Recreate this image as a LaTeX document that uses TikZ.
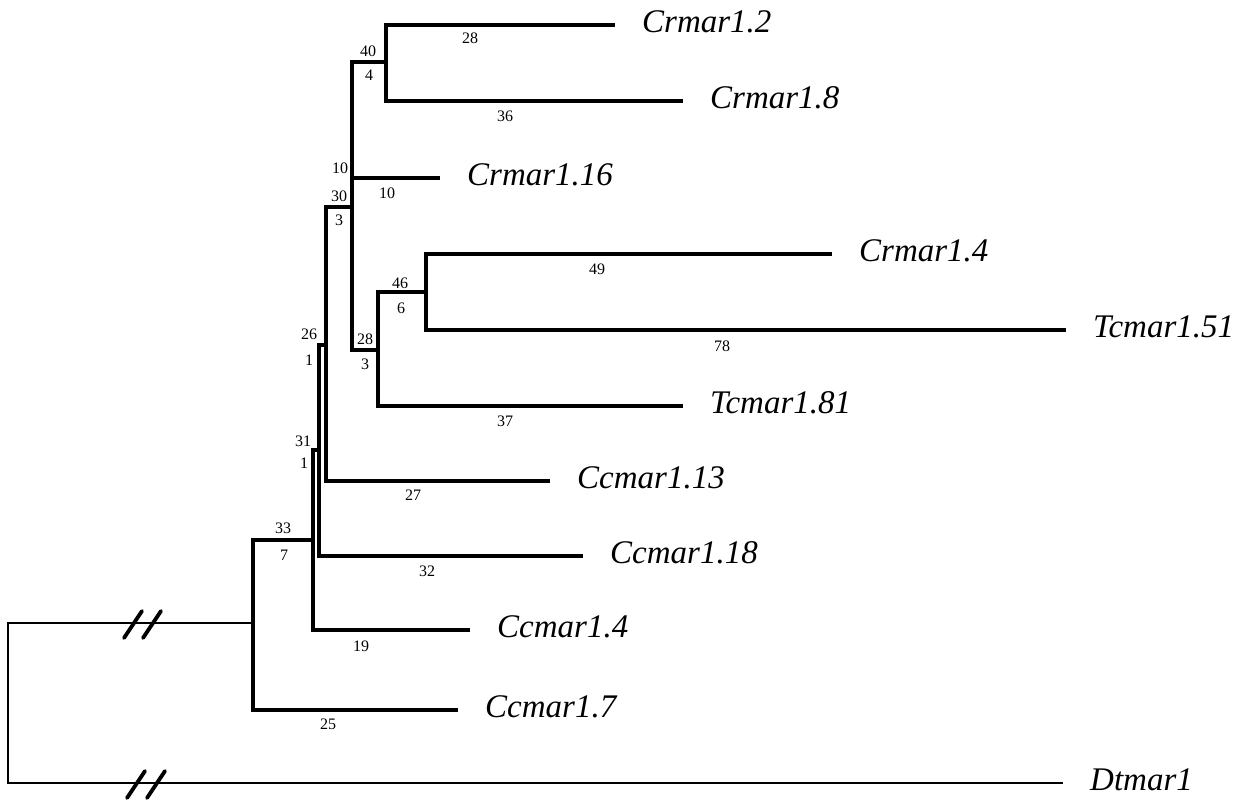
\documentclass[tikz,border=0pt]{standalone}
\usepackage{fontspec}
\setmainfont{Liberation Serif}
\usetikzlibrary{positioning}

\begin{document}
\begin{tikzpicture}
  [x=1pt,y=-1pt,
   branch/.style={line width=3.2pt},
   rootline/.style={line width=2.4pt},
   brk/.style={line width=3.8pt,line cap=round},
   taxon/.style={font=\fontsize{33}{33}\selectfont\itshape,inner sep=0pt},
   num/.style={font=\fontsize{16}{16}\selectfont,inner sep=0pt}]
  \useasboundingbox (0,0) rectangle (1257,801);

  % internal nodes
  \coordinate (r)  at (8,703);
  \coordinate (nA) at (253,623);
  \coordinate (nB) at (313,540);
  \coordinate (nC) at (319,450);
  \coordinate (nD) at (326,345);
  \coordinate (nE) at (352,207);
  \coordinate (nF) at (386,62);
  \coordinate (nG) at (378,350);
  \coordinate (nH) at (426,292);

  % branch ends
  \coordinate (e1)  at (615,25);
  \coordinate (e2)  at (683,101);
  \coordinate (e3)  at (440,178);
  \coordinate (e4)  at (832,254);
  \coordinate (e5)  at (1066,330);
  \coordinate (e6)  at (683,406);
  \coordinate (e7)  at (550,481);
  \coordinate (e8)  at (583,556);
  \coordinate (e9)  at (470,630);
  \coordinate (e10) at (458,710);
  \coordinate (e11) at (1063,783);

  % taxa
  \node[taxon,right=27pt of e1,yshift=3pt]  (t1)  {Crmar1.2};
  \node[taxon,right=27pt of e2,yshift=3pt]  (t2)  {Crmar1.8};
  \node[taxon,right=27pt of e3,yshift=3pt]  (t3)  {Crmar1.16};
  \node[taxon,right=27pt of e4,yshift=3pt]  (t4)  {Crmar1.4};
  \node[taxon,right=27pt of e5,yshift=3pt]  (t5)  {Tcmar1.51};
  \node[taxon,right=27pt of e6,yshift=3pt]  (t6)  {Tcmar1.81};
  \node[taxon,right=27pt of e7,yshift=3pt]  (t7)  {Ccmar1.13};
  \node[taxon,right=27pt of e8,yshift=3pt]  (t8)  {Ccmar1.18};
  \node[taxon,right=27pt of e9,yshift=3pt]  (t9)  {Ccmar1.4};
  \node[taxon,right=27pt of e10,yshift=3pt] (t10) {Ccmar1.7};
  \node[taxon,right=27pt of e11,yshift=3pt] (t11) {Dtmar1};

  \foreach \from/\to in {nA/nB,nA/e10,nB/nC,nB/e9,nC/nD,nC/e8,nD/nE,nD/e7,
                         nE/nF,nE/e3,nE/nG,nF/e1,nF/e2,nG/nH,nG/e6,nH/e4,nH/e5}
    \draw[branch] (\from) |- (\to);
  \foreach \to in {nA,e11}
    \draw[rootline] (r) |- (\to);

  % breaks
  \draw[brk] (124,638) -- (142,611) (143,638) -- (161,611);
  \draw[brk] (127,798) -- (145,771) (147,798) -- (165,771);

  % branch lengths
  \node[num] (l1)  at (470,38)  {28};
  \node[num] (l2)  at (505,116) {36};
  \node[num] (l3)  at (387,193) {10};
  \node[num] (l4)  at (597,269) {49};
  \node[num] (l5)  at (722,346) {78};
  \node[num] (l6)  at (505,421) {37};
  \node[num] (l7)  at (413,495) {27};
  \node[num] (l8)  at (427,571) {32};
  \node[num] (l9)  at (361,646) {19};
  \node[num] (l10) at (328,724) {25};

  % node values
  \node[num] (b1)  at (368,51)  {40};
  \node[num] (b2)  at (369,75)  {4};
  \node[num] (b3)  at (340,168) {10};
  \node[num] (b4)  at (339,196) {30};
  \node[num] (b5)  at (339,220) {3};
  \node[num] (b6)  at (400,283) {46};
  \node[num] (b7)  at (401,308) {6};
  \node[num] (b8)  at (365,339) {28};
  \node[num] (b9)  at (365,364) {3};
  \node[num] (b10) at (309,334) {26};
  \node[num] (b11) at (309,360) {1};
  \node[num] (b12) at (303,441) {31};
  \node[num] (b13) at (304,463) {1};
  \node[num] (b14) at (283,528) {33};
  \node[num] (b15) at (284,555) {7};

\end{tikzpicture}
\end{document}
